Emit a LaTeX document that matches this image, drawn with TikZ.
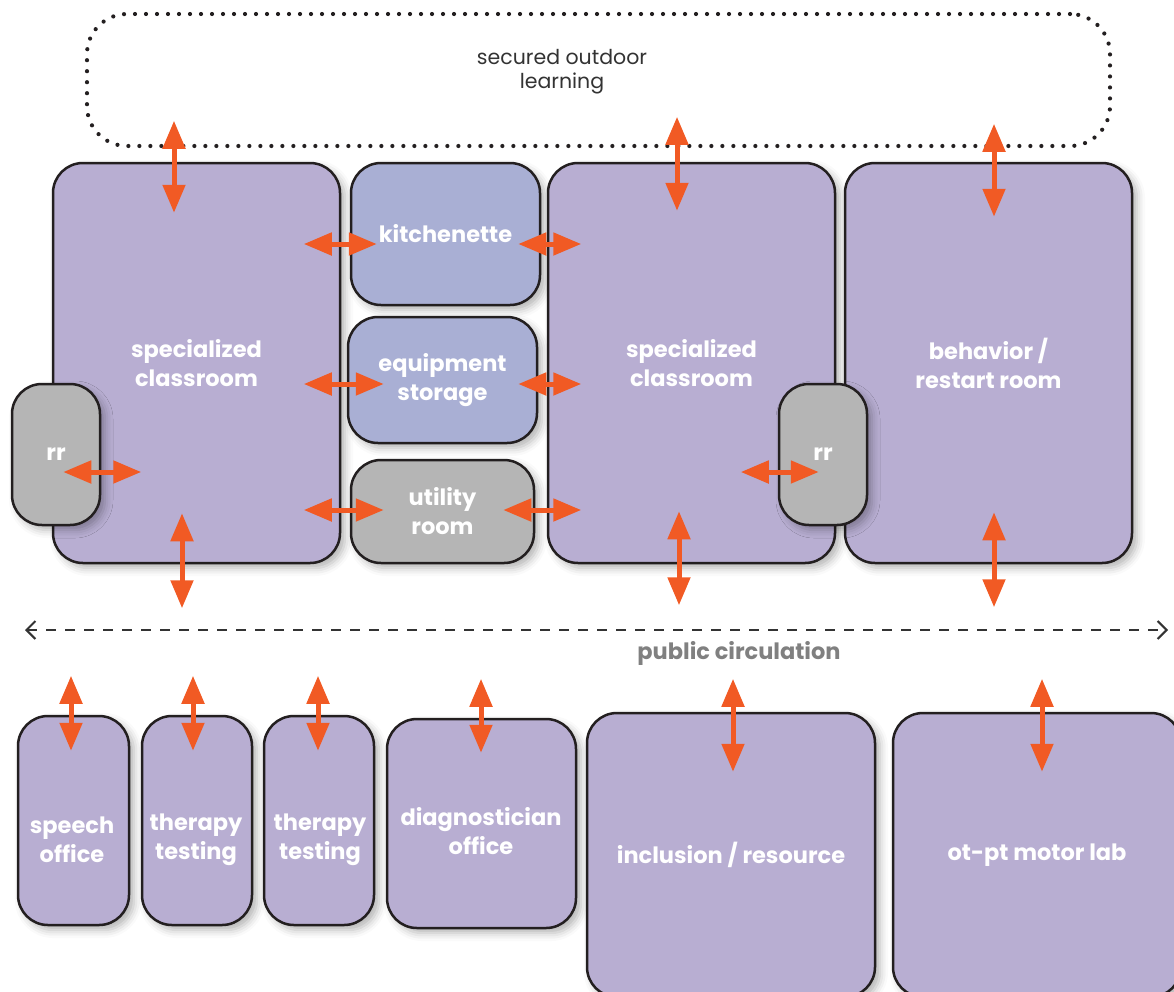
\documentclass[tikz,border=0pt]{standalone}
\usepackage{fontspec}
\setmainfont{Poppins}
\usetikzlibrary{arrows.meta,shadows.blur}

\definecolor{roomcol}{RGB}{184,174,210}
\definecolor{storecol}{RGB}{169,175,212}
\definecolor{wetcol}{RGB}{181,181,181}
\definecolor{rimcol}{RGB}{35,31,32}
\definecolor{doorcol}{RGB}{241,90,36}
\definecolor{hallcol}{RGB}{51,51,51}

\begin{document}
\begin{tikzpicture}[x=1pt, y=-1pt,
   rmtext/.style={text=white, align=center, font=\bfseries\fontsize{22.5}{29}\selectfont},
   room/.style={rmtext, draw=rimcol, line width=2.5pt, fill=roomcol, rounded corners=30pt,
      inner sep=0pt, blur shadow={shadow xshift=5pt, shadow yshift=-5pt,
      shadow blur radius=8pt, shadow opacity=30}},
   store/.style={room, fill=storecol},
   wet/.style={room, fill=wetcol},
   yard/.style={draw=rimcol, line width=4.2pt, dash pattern=on 0pt off 11pt,
      line cap=round, rounded corners=40pt},
   yardtext/.style={text=hallcol, align=center, font=\fontsize{20.5}{24}\selectfont},
   door/.style={draw=doorcol, line width=5pt,
      {Triangle[width=22pt,length=28pt]}-{Triangle[width=22pt,length=28pt]}},
   hall/.style={draw=hallcol, line width=2pt, dash pattern=on 10pt off 9pt,
      {Straight Barb[length=9pt,width=18pt]}-{Straight Barb[length=9pt,width=18pt]}},
   halltext/.style={text=gray, font=\bfseries\fontsize{22.5}{24}\selectfont}]

\useasboundingbox (0,0) rectangle (1174,991);
\clip (0,0) rectangle (1174,991);

% outdoor area
\node[yard, minimum width=1023, minimum height=132] (out) at (598.5,80) {};
\node[yardtext] (outtxt) at (562,72) {secured outdoor\\learning};

% classroom wing
\node[room, minimum width=287, minimum height=400] (cls1) at (196.5,363) {specialized\\classroom};
\node[store, minimum width=189, minimum height=142] (kit) at (445.5,234) {kitchenette};
\node[store, minimum width=189, minimum height=126] (equip) at (442.5,380) {equipment\\storage};
\node[wet, minimum width=183, minimum height=103] (util) at (442.5,511.5) {utility\\room};
\node[room, minimum width=287, minimum height=400] (cls2) at (691.5,363) {specialized\\classroom};
\node[room, minimum width=287, minimum height=400] (behav) at (988.5,363) {behavior /\\restart room};
\node[wet, minimum width=88, minimum height=141] (rr1) at (56,454.5) {rr};
\node[wet, minimum width=88, minimum height=141] (rr2) at (823,454.5) {rr};

% support wing
\node[room, minimum width=111, minimum height=209] (speech) at (73.5,820.5) {};
\node[rmtext] (speechtxt) at (72,840) {speech\\office};
\node[room, minimum width=110, minimum height=209] (ther1) at (197,820.5) {};
\node[rmtext] (ther1txt) at (196,840) {therapy\\testing};
\node[room, minimum width=110, minimum height=209] (ther2) at (319,820.5) {};
\node[rmtext] (ther2txt) at (320,840) {therapy\\testing};
\node[room, minimum width=189, minimum height=209] (diag) at (481.5,823.5) {};
\node[rmtext] (diagtxt) at (481,831) {diagnostician\\office};
\node[room, minimum width=288, minimum height=284] (incl) at (731,855) {inclusion / resource};
\node[room, minimum width=288, minimum height=284] (motor) at (1037,855) {ot-pt motor lab};

% circulation
\coordinate (cw) at (25,630);
\coordinate (ce) at (1168,630);
\draw[hall] (cw) -- (ce);
\node[halltext] (circ) at (739,653) {public circulation};

% doors
\draw[door] ([shift={(-22.5,-41)}]cls1.north) -- ++(0,92);
\draw[door] ([shift={(-14.5,-45)}]cls2.north) -- ++(0,94);
\draw[door] ([shift={(5.5,-38)}]behav.north) -- ++(0,93);
\draw[door] ([shift={(-46,10)}]kit.west) -- ++(73,0);
\draw[door] ([shift={(-23,10)}]kit.east) -- ++(63,0);
\draw[door] ([shift={(-43,4)}]equip.west) -- ++(80,0);
\draw[door] ([shift={(-20,4)}]equip.east) -- ++(63,0);
\draw[door] ([shift={(-46,-1.5)}]util.west) -- ++(80,0);
\draw[door] ([shift={(-32,-1.5)}]util.east) -- ++(78,0);
\draw[door] ([shift={(-38,17.5)}]rr1.east) -- ++(78,0);
\draw[door] ([shift={(-37,17.5)}]rr2.west) -- ++(78,0);
\draw[door] ([shift={(-14.5,-51)}]cls1.south) -- ++(0,95);
\draw[door] ([shift={(-12.5,-53)}]cls2.south) -- ++(0,94);
\draw[door] ([shift={(5.5,-52)}]behav.south) -- ++(0,95);
\draw[door] ([shift={(-2.5,-39)}]speech.north) -- ++(0,75);
\draw[door] ([shift={(-4,-39)}]ther1.north) -- ++(0,75);
\draw[door] ([shift={(-1,-39)}]ther2.north) -- ++(0,75);
\draw[door] ([shift={(-0.5,-39)}]diag.north) -- ++(0,74);
\draw[door] ([shift={(2,-33)}]incl.north) -- ++(0,93);
\draw[door] ([shift={(5,-33)}]motor.north) -- ++(0,93);

\end{tikzpicture}
\end{document}
